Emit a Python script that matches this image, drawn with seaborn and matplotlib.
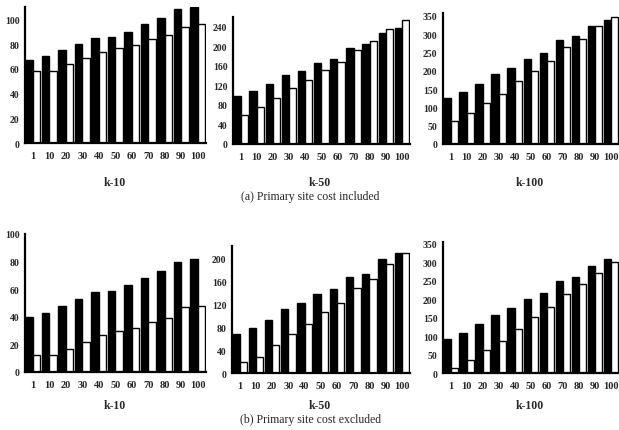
import numpy as np
import pandas as pd
import matplotlib
matplotlib.use("Agg")
import matplotlib.pyplot as plt
import seaborn as sns

# x categories (same for every panel)
categories = ["1", "10", "20", "30", "40", "50", "60", "70", "80", "90", "100"]

# (a) primary site cost included
a_k10_black = [67, 70, 75, 80, 85, 86, 90, 96, 101, 108, 110]
a_k10_white = [58, 58, 64, 69, 74, 77, 79, 84, 87, 94, 96]
a_k50_black = [98, 108, 123, 142, 150, 165, 175, 197, 205, 228, 237]
a_k50_white = [60, 75, 95, 115, 132, 152, 168, 193, 210, 236, 253]
a_k100_black = [127, 143, 165, 190, 207, 232, 248, 283, 295, 322, 340]
a_k100_white = [63, 85, 113, 138, 172, 200, 228, 265, 288, 323, 348]

# (b) primary site cost excluded
b_k10_black = [40, 43, 48, 53, 58, 59, 63, 68, 73, 80, 82]
b_k10_white = [12, 12, 17, 22, 27, 30, 32, 36, 39, 47, 48]
b_k50_black = [68, 78, 93, 111, 122, 137, 147, 167, 173, 198, 208]
b_k50_white = [20, 28, 48, 67, 85, 107, 122, 148, 163, 190, 208]
b_k100_black = [93, 108, 133, 158, 177, 201, 216, 250, 260, 290, 308]
b_k100_white = [13, 35, 62, 88, 120, 152, 178, 213, 240, 270, 300]

panel_titles = ["k-10", "k-50", "k-100"]
captions = ["(a) Primary site cost included", "(b) Primary site cost excluded"]

W, H = 619, 431
sns.set_style("white")
plt.rcParams["font.family"] = ["Liberation Serif", "DejaVu Serif"]
fig = plt.figure(figsize=(W / 100, H / 100), dpi=100)


def px_axes(left, top, right, bottom):
    return fig.add_axes([left / W, 1 - bottom / H, (right - left) / W, (bottom - top) / H])


def draw_panel(ax, black, white, ylim, yticks):
    df = pd.DataFrame({
        "n": categories * 2,
        "cost": black + white,
        "series": ["black"] * len(black) + ["white"] * len(white),
    })
    sns.barplot(data=df, x="n", y="cost", hue="series",
                palette={"black": "black", "white": "white"},
                edgecolor="black", linewidth=1.0, width=0.9, gap=0,
                legend=False, ax=ax)
    ax.set_ylim(*ylim)
    ax.set_xlim(-0.47, len(categories) - 0.53)
    ax.set_yticks(yticks)
    ax.set_yticklabels([str(t) for t in yticks], fontsize=7, fontweight="bold")
    ax.set_xticks(range(len(categories)))
    ax.set_xticklabels(categories, fontsize=7.5, fontweight="bold")
    ax.set_xticks(np.arange(len(categories)) + 0.5, minor=True)
    ax.tick_params(axis="x", which="major", length=0, pad=6)
    ax.tick_params(axis="x", which="minor", length=3, width=1.3)
    ax.tick_params(axis="y", length=3, width=1.3, pad=1, direction="out")
    ax.set_xlabel("")
    ax.set_ylabel("")
    for s in ["top", "right"]:
        ax.spines[s].set_visible(False)
    for s in ["left", "bottom"]:
        ax.spines[s].set_linewidth(1.6)
        ax.spines[s].set_color("black")
    ax.set_facecolor("white")


# top row
ax = px_axes(25, 8, 206, 144)
draw_panel(ax, a_k10_black, a_k10_white, (0, 110), [0, 20, 40, 60, 80, 100])
ax = px_axes(233, 18, 410, 145)
draw_panel(ax, a_k50_black, a_k50_white, (0, 260), [0, 40, 80, 120, 160, 200, 240])
ax = px_axes(443, 14, 619, 145)
draw_panel(ax, a_k100_black, a_k100_white, (0, 358), [0, 50, 100, 150, 200, 250, 300, 350])

# bottom row
ax = px_axes(25, 235, 206, 373)
draw_panel(ax, b_k10_black, b_k10_white, (0, 100), [0, 20, 40, 60, 80, 100])
ax = px_axes(232, 247, 410, 374)
draw_panel(ax, b_k50_black, b_k50_white, (0, 221), [0, 40, 80, 120, 160, 200])
ax = px_axes(443, 243, 619, 374)
draw_panel(ax, b_k100_black, b_k100_white, (0, 355), [0, 50, 100, 150, 200, 250, 300, 350])

# panel labels and captions
centers = [115, 320, 530]
for row_y in [183, 406]:
    for cx, t in zip(centers, panel_titles):
        fig.text(cx / W, 1 - row_y / H, t, ha="center", va="center",
                 fontsize=8.5, fontweight="bold")
fig.text(310 / W, 1 - 197 / H, captions[0], ha="center", va="center", fontsize=8.5)
fig.text(310 / W, 1 - 420 / H, captions[1], ha="center", va="center", fontsize=8.5)

fig.savefig("out.png", dpi=100)
